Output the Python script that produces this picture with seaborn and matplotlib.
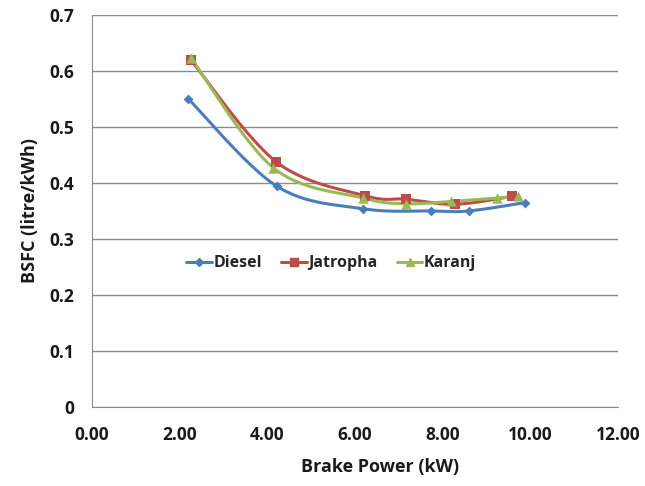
import numpy as np
import pandas as pd
import matplotlib
matplotlib.use('Agg')
import matplotlib.pyplot as plt
from matplotlib.lines import Line2D
import seaborn as sns

# Data
diesel_x = [2.20, 4.22, 6.19, 7.73, 8.59, 9.89]
diesel_y = [0.550, 0.394, 0.354, 0.350, 0.350, 0.365]

jatropha_x = [2.25, 4.20, 6.24, 7.16, 8.29, 9.58]
jatropha_y = [0.620, 0.438, 0.377, 0.371, 0.362, 0.376]

karanj_x = [2.26, 4.14, 6.19, 7.17, 8.19, 9.24, 9.73]
karanj_y = [0.623, 0.427, 0.373, 0.363, 0.367, 0.373, 0.376]

series_names = ['Diesel', 'Jatropha', 'Karanj']
colors = ['#4A7EBB', '#BE4B48', '#98B954']
markers = ['D', 's', '^']
marker_sizes = [5, 6.5, 7.5]


def smooth(x, y, n=30):
    # Catmull-Rom curve through the points (like Excel smoothed lines)
    p = np.column_stack([x, y]).astype(float)
    p = np.vstack([p[0], p, p[-1]])
    out = []
    t = np.linspace(0, 1, n)[:, None]
    for i in range(1, len(p) - 2):
        p0, p1, p2, p3 = p[i - 1], p[i], p[i + 1], p[i + 2]
        seg = 0.5 * ((2 * p1) + (-p0 + p2) * t + (2 * p0 - 5 * p1 + 4 * p2 - p3) * t ** 2
                     + (-p0 + 3 * p1 - 3 * p2 + p3) * t ** 3)
        out.append(seg if i == 1 else seg[1:])
    out = np.vstack(out)
    return out[:, 0], out[:, 1]


sns.set_style('white')
plt.rcParams['font.family'] = ['Open Sans', 'DejaVu Sans']
plt.rcParams['font.weight'] = 'bold'

fig = plt.figure(figsize=(6.45, 4.86), dpi=100)
ax = fig.add_axes([0.1426, 0.1626, 0.8155, 0.8066])

all_x = [diesel_x, jatropha_x, karanj_x]
all_y = [diesel_y, jatropha_y, karanj_y]

for name, xs, ys, c, m, ms in zip(series_names, all_x, all_y, colors, markers, marker_sizes):
    sx, sy = smooth(xs, ys)
    curve = pd.DataFrame({'x': sx, 'y': sy})
    sns.lineplot(data=curve, x='x', y='y', ax=ax, color=c, linewidth=2.2, sort=False,
                 estimator=None, zorder=3)
    pts = pd.DataFrame({'x': xs, 'y': ys})
    sns.scatterplot(data=pts, x='x', y='y', ax=ax, color=c, marker=m, s=ms ** 2,
                    edgecolor=c, linewidth=0, zorder=4)

ax.set_xlim(0, 12)
ax.set_ylim(0, 0.7)
ax.set_xticks(np.arange(0, 12.1, 2))
ax.set_xticklabels([f'{v:.2f}' for v in np.arange(0, 12.1, 2)])
ax.set_yticks(np.arange(0, 0.71, 0.1))
ax.set_yticklabels(['0'] + [f'{v:.1f}' for v in np.arange(0.1, 0.71, 0.1)])

ax.yaxis.grid(True, color='#8c8c8c', linewidth=1)
ax.set_axisbelow(True)
for side in ['top', 'right']:
    ax.spines[side].set_visible(False)
for side in ['left', 'bottom']:
    ax.spines[side].set_color('#8c8c8c')
ax.tick_params(axis='both', direction='out', length=5, color='#8c8c8c',
               labelsize=12.5, labelcolor='#1a1a1a')
ax.tick_params(axis='x', pad=9)
ax.tick_params(axis='y', pad=8)

ax.set_xlabel('Brake Power (kW)', fontsize=13, fontweight='bold', color='#1a1a1a')
ax.set_ylabel('BSFC (litre/kWh)', fontsize=13, fontweight='bold', color='#1a1a1a')
ax.xaxis.set_label_coords(0.548, -0.130)
ax.yaxis.set_label_coords(-0.10, 0.5)

handles = [Line2D([0], [0], color=c, marker=m, markersize=ms * 0.85, linewidth=2.2)
           for c, m, ms in zip(colors, markers, marker_sizes)]
ax.legend(handles, series_names, loc='center', bbox_to_anchor=(0.455, 0.367), ncol=3,
          frameon=False, handlelength=1.6, handletextpad=0.1, columnspacing=1.2,
          prop={'weight': 'bold', 'size': 11.5})

fig.savefig('out.png', dpi=100)
